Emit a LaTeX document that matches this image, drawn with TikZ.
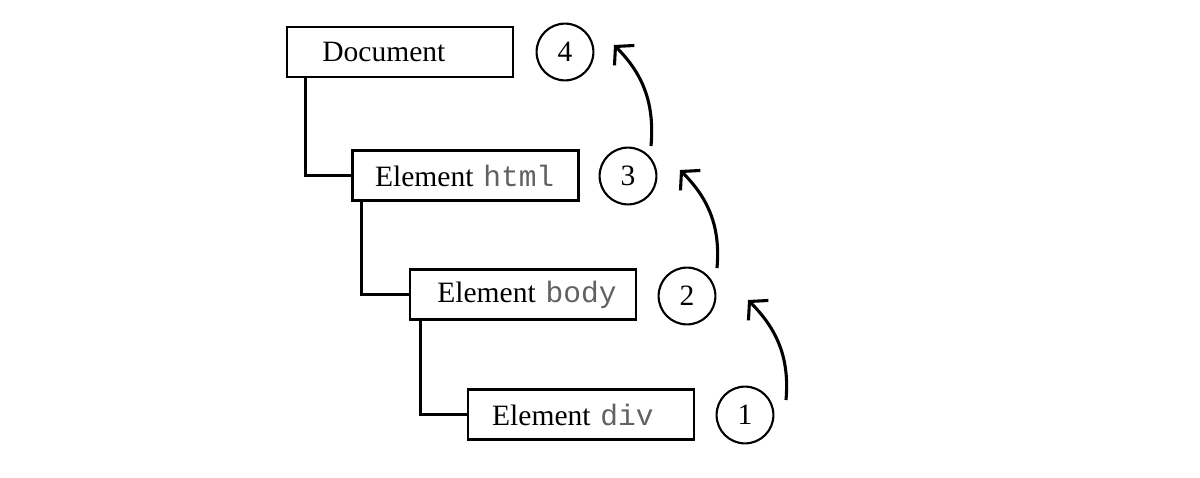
\documentclass[tikz,border=0pt]{standalone}
\usepackage{fontspec}
\setmainfont{Liberation Serif}
\setmonofont{Liberation Mono}
\usetikzlibrary{arrows.meta}

\newcommand\tagname[1]{{\ttfamily\color{black!62}#1}}

\begin{document}
\begin{tikzpicture}[
    x=0.0125cm, y=0.0125cm,
    dom node/.style={rectangle, draw=black, line width=0.9pt, text width=2.62cm, align=left, inner xsep=0.1cm, minimum height=0.63cm, inner ysep=0pt, font=\fontsize{10.5}{12}\selectfont},
    step node/.style={circle, draw=black, line width=0.75pt, minimum size=0.71cm, inner sep=0pt, font=\fontsize{10.5}{12}\selectfont},
    tree edge/.style={line width=1.1pt, draw=black},
    bubble edge/.style={line width=1.1pt, draw=black, -{Straight Barb[length=4.5pt,width=10pt]}}
]
\useasboundingbox (0,0) rectangle (1200,-477);

% DOM 树: Document -> html -> body -> div
\node[dom node] (doc)  at (400,-52)      {\hspace*{0.34cm}Document};
\node[dom node] (html) at (465.5,-175.5) {\hspace*{0.18cm}Element \tagname{html}};
\node[dom node] (body) at (523,-294.5)   {\hspace*{0.24cm}Element \tagname{body}};
\node[dom node] (div)  at (581,-414.5)   {\hspace*{0.2cm}Element \tagname{div}};

% 父子连线 (折线)
\draw[tree edge] ([xshift=0.24cm]doc.south west)  |- (html.west);
\draw[tree edge] ([xshift=0.125cm]html.south west) |- (body.west);
\draw[tree edge] ([xshift=0.15cm]body.south west)  |- (div.west);

% 冒泡顺序 1 -> 4
\node[step node] (c4) at (565,-52)  {4};
\node[step node] (c3) at (628,-176) {3};
\node[step node] (c2) at (687,-296) {2};
\node[step node] (c1) at (745,-415) {1};

\coordinate (s1) at (786,-400);
\coordinate (t1) at (748,-300);
\coordinate (s2) at (717,-268);
\coordinate (t2) at (680,-170);
\coordinate (s3) at (651,-146);
\coordinate (t3) at (614,-45);

\draw[bubble edge] (s1) to[out=85, in=-45] (t1);
\draw[bubble edge] (s2) to[out=85, in=-45] (t2);
\draw[bubble edge] (s3) to[out=85, in=-45] (t3);

\end{tikzpicture}
\end{document}
